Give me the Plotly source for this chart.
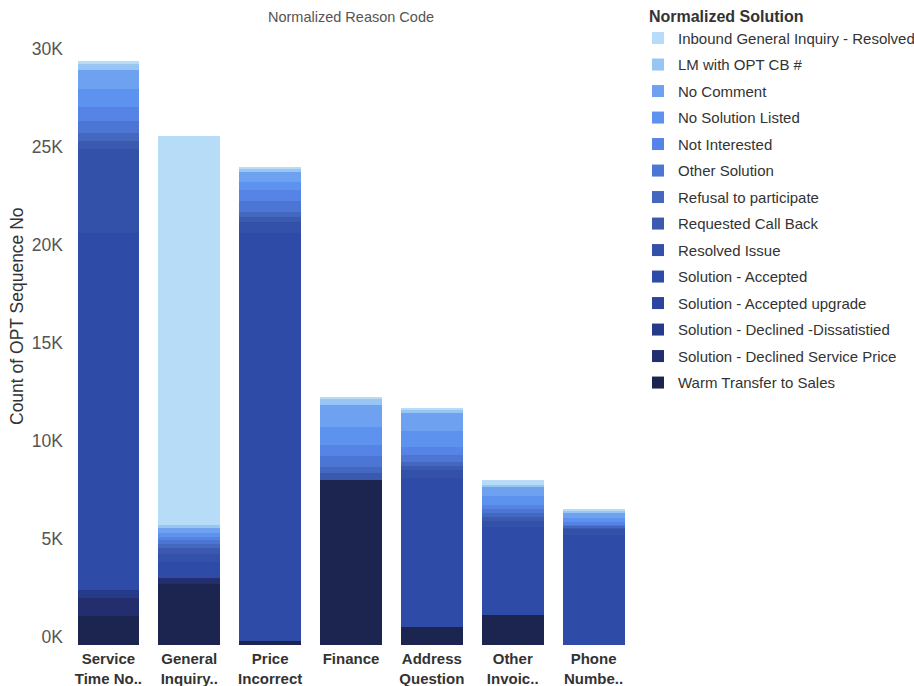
import plotly.graph_objects as go

categories = ["Service<br>Time No..", "General<br>Inquiry..", "Price<br>Incorrect",
              "Finance", "Address<br>Question", "Other<br>Invoic..", "Phone<br>Numbe.."]

# Counts per solution (order of categories above)
inbound_general_inquiry = [130, 19850, 100, 100, 50, 250, 50]
lm_with_opt_cb = [300, 100, 200, 350, 200, 100, 100]
no_comment = [1000, 300, 500, 1100, 900, 500, 300]
no_solution_listed = [900, 200, 390, 910, 800, 450, 200]
not_interested = [700, 160, 550, 550, 450, 200, 100]
other_solution = [650, 200, 560, 560, 320, 200, 50]
refusal_to_participate = [400, 200, 250, 300, 200, 200, 100]
requested_call_back = [400, 300, 260, 380, 220, 200, 100]
resolved_issue = [4300, 440, 600, 0, 400, 300, 300]
solution_accepted = [18200, 800, 20800, 0, 7600, 4500, 5620]
solution_accepted_upgrade = [0, 0, 0, 0, 0, 0, 0]
solution_declined_dissatisfied = [400, 0, 0, 0, 0, 0, 0]
solution_declined_service_price = [900, 300, 0, 0, 0, 0, 0]
warm_transfer_to_sales = [1500, 3120, 200, 8420, 930, 1530, 0]

series_names = [
    "Inbound General Inquiry - Resolved", "LM with OPT CB #", "No Comment",
    "No Solution Listed", "Not Interested", "Other Solution",
    "Refusal to participate", "Requested Call Back", "Resolved Issue",
    "Solution - Accepted", "Solution - Accepted upgrade",
    "Solution - Declined -Dissatistied", "Solution - Declined Service Price",
    "Warm Transfer to Sales",
]
series_values = [
    inbound_general_inquiry, lm_with_opt_cb, no_comment, no_solution_listed,
    not_interested, other_solution, refusal_to_participate, requested_call_back,
    resolved_issue, solution_accepted, solution_accepted_upgrade,
    solution_declined_dissatisfied, solution_declined_service_price,
    warm_transfer_to_sales,
]
series_colors = [
    "#b6dcf8", "#98c6f4", "#6ea2f0", "#5e92ef", "#5584e6", "#4d75d4",
    "#4467c0", "#3b59af", "#3451a9", "#2f4ba8", "#2b44a0", "#263a8a",
    "#222e6e", "#1c2550",
]

tick_vals = [0, 5000, 10000, 15000, 20000, 25000, 30000]
tick_text = ["0K", "5K", "10K", "15K", "20K", "25K", "30K"]

fig = go.Figure()
# bottom of the stack first (darkest), top last (lightest)
items = list(zip(series_names, series_values, series_colors))
for rank, (name, vals, col) in reversed(list(enumerate(items))):
    fig.add_trace(go.Bar(
        x=categories, y=vals, name=name, legendgroup=name, legendrank=rank + 1,
        marker=dict(color=col, line=dict(width=0)),
    ))

W, H = 914, 686
ml, mr, mt, mb = 68, 280, 45, 41
pw = W - ml - mr
ph = H - mt - mb
FONT = "Liberation Sans, Arial, sans-serif"

fig.update_layout(
    width=W, height=H,
    barmode="stack", bargap=0.235,
    margin=dict(l=ml, r=mr, t=mt, b=mb, autoexpand=False),
    paper_bgcolor="white", plot_bgcolor="white",
    font=dict(family=FONT, color="#333333", size=15),
    title=dict(text="Normalized Reason Code", x=0.5, xref="paper", xanchor="center",
               y=1 - 17 / H, yref="container", yanchor="middle",
               font=dict(size=14.5, color="#555555")),
    showlegend=True,
    legend=dict(
        x=(638 - ml) / pw, xanchor="left", xref="paper",
        y=1 - 1 / H, yanchor="top", yref="container",
        traceorder="grouped", tracegroupgap=4,
        title=dict(text="&nbsp;&nbsp;<b>Normalized Solution</b>",
                   font=dict(size=16, color="#333333")),
        font=dict(size=15, color="#333333"),
        bgcolor="rgba(0,0,0,0)", borderwidth=0,
        maxheight=1,
    ),
    xaxis=dict(showgrid=False, zeroline=False, showline=False, ticks="",
               tickfont=dict(size=15, color="#333333", family=FONT, weight="bold"),
               ticklabelstandoff=3, automargin=False),
    yaxis=dict(range=[0, ph / 19.6 * 1000], tickvals=tick_vals, ticktext=tick_text,
               showgrid=False, zeroline=False, showline=False, ticks="",
               ticklabelshift=-8, ticklabelstandoff=4,
               tickfont=dict(size=17.5, color="#555555"), automargin=False),
    annotations=[dict(text="Count of OPT Sequence No", textangle=-90,
                      xref="paper", x=(17 - ml) / pw, xanchor="center",
                      yref="paper", y=(H - mb - 316) / ph, yanchor="middle",
                      showarrow=False, font=dict(size=17.5, color="#333333"))],
)

fig.write_html("out.html")
